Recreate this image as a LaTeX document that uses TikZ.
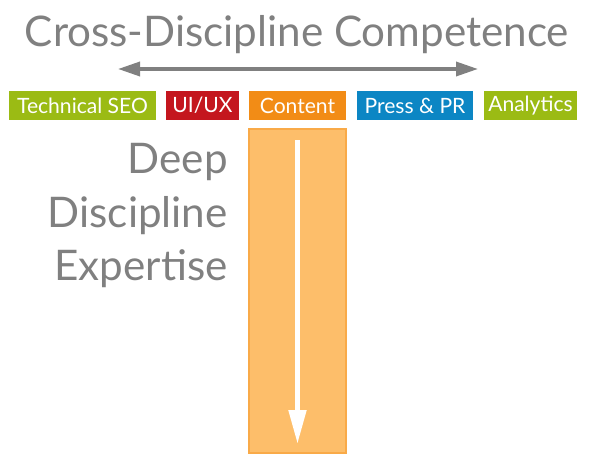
\documentclass[tikz,border=0pt]{standalone}
\usepackage{fontspec}
\setmainfont{Lato}
\usetikzlibrary{arrows.meta}

\definecolor{seogreen}{RGB}{155,187,20}
\definecolor{uxred}{RGB}{196,22,30}
\definecolor{contorange}{RGB}{242,140,22}
\definecolor{prblue}{RGB}{12,134,196}
\definecolor{colorange}{RGB}{253,190,106}
\definecolor{txtgray}{RGB}{128,128,128}

\tikzset{
    discbox/.style={minimum height=29*0.02cm, inner sep=0pt, text=white, font=\fontsize{12}{14}\selectfont},
    bigtxt/.style={text=txtgray, font=\fontsize{24}{28}\selectfont, inner sep=0pt}
}

\begin{document}
\begin{tikzpicture}[x=0.02cm, y=-0.02cm]
    \useasboundingbox (0,0) rectangle (589,470);
    \node[bigtxt, anchor=base](title) at (297,47){Cross-Discipline Competence};
    \coordinate(arrL) at (118,69);
    \coordinate(arrR) at (478,69);
    \draw[txtgray, line width=3.5*0.02cm, {Triangle[length=22*0.02cm, width=14*0.02cm]}-{Triangle[length=22*0.02cm, width=14*0.02cm]}](arrL)--(arrR);
    \node[discbox, fill=seogreen, minimum width=147*0.02cm](seo) at (82.5,105.5){Technical SEO};
    \node[discbox, fill=uxred, minimum width=73*0.02cm](ux) at (202.5,105.5){UI/UX};
    \node[discbox, fill=contorange, minimum width=97*0.02cm](cont) at (297.5,105.5){Content};
    \node[discbox, fill=prblue, minimum width=116*0.02cm](pr) at (415,105.5){Press \& PR};
    \node[discbox, fill=seogreen, minimum width=93*0.02cm](ana) at (530.5,105.5){Analytics};
    \node[fill=colorange, draw=contorange!40!colorange, line width=0.6pt, minimum width=97*0.02cm, minimum height=324*0.02cm, inner sep=0pt](col) at (297.5,291){};
    \coordinate(dtop) at (297.5,140);
    \coordinate(dbot) at (297.5,444);
    \draw[white, line width=5*0.02cm, -{Triangle[length=34*0.02cm, width=17*0.02cm]}](dtop)--(dbot);
    \node[bigtxt, anchor=base east](deep) at (228,173){Deep};
    \node[bigtxt, anchor=base east](disc) at (228,227){Discipline};
    \node[bigtxt, anchor=base east](exp) at (228,280){Expertise};
\end{tikzpicture}
\end{document}
